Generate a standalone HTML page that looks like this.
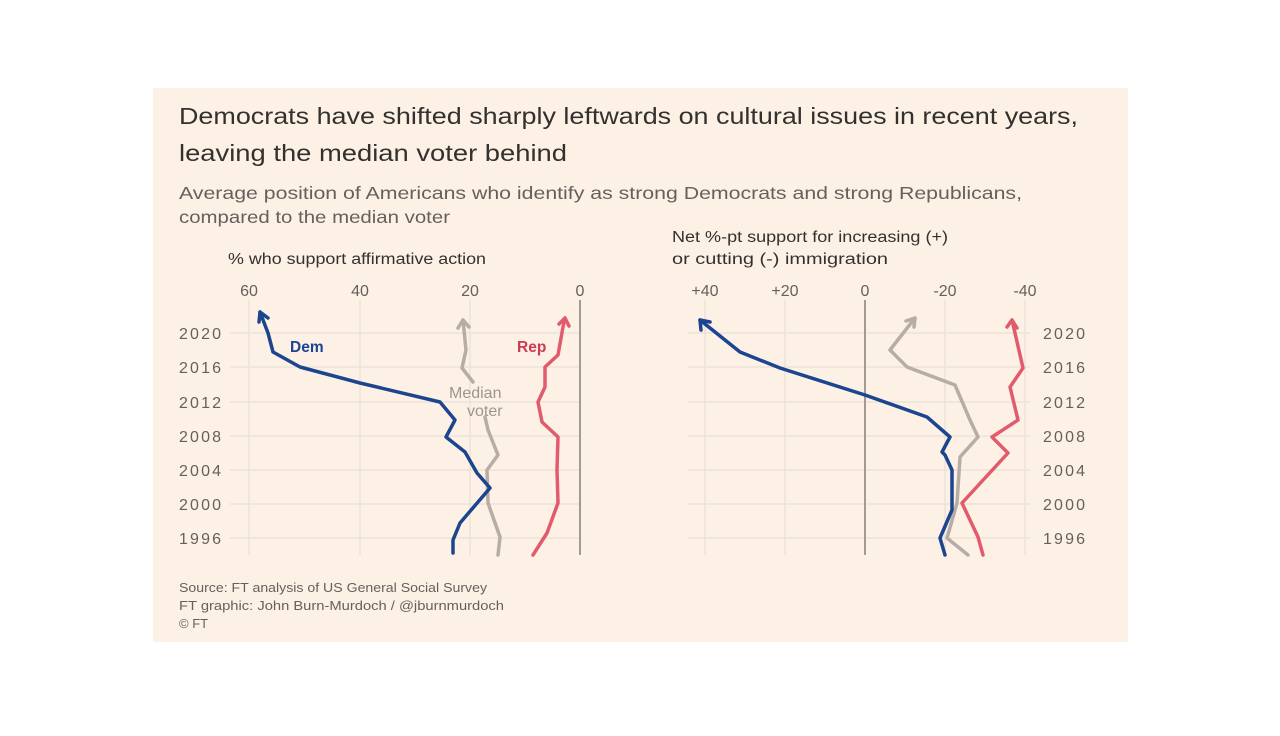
<!DOCTYPE html>
<html><head><meta charset="utf-8"><style>
body{margin:0;background:#fff;width:1280px;height:731px;overflow:hidden;font-family:"Liberation Sans",sans-serif}
</style></head><body>
<svg width="1280" height="731" xmlns="http://www.w3.org/2000/svg" font-family="Liberation Sans, sans-serif">
<rect x="0" y="0" width="1280" height="731" fill="#fff"/>
<rect x="153" y="88" width="975" height="554" fill="#fdf1e6"/>
<text x="179" y="124" font-size="23" fill="#33302e" textLength="899" lengthAdjust="spacingAndGlyphs">Democrats have shifted sharply leftwards on cultural issues in recent years,</text>
<text x="179" y="161" font-size="23" fill="#33302e" textLength="388" lengthAdjust="spacingAndGlyphs">leaving the median voter behind</text>
<text x="179" y="199" font-size="17.5" fill="#66605c" textLength="843" lengthAdjust="spacingAndGlyphs">Average position of Americans who identify as strong Democrats and strong Republicans,</text>
<text x="179" y="223" font-size="17.5" fill="#66605c" textLength="271" lengthAdjust="spacingAndGlyphs">compared to the median voter</text>
<text x="228" y="264" font-size="15.5" fill="#33302e" textLength="258" lengthAdjust="spacingAndGlyphs">% who support affirmative action</text>
<text x="672" y="242" font-size="15.5" fill="#33302e" textLength="276" lengthAdjust="spacingAndGlyphs">Net %-pt support for increasing (+)</text>
<text x="672" y="264" font-size="15.5" fill="#33302e" textLength="216" lengthAdjust="spacingAndGlyphs">or cutting (-) immigration</text>
<g stroke="#ebe2d8" stroke-width="1.5">
<line x1="230" x2="580" y1="333" y2="333"/><line x1="230" x2="580" y1="367" y2="367"/><line x1="230" x2="580" y1="402" y2="402"/><line x1="230" x2="580" y1="436" y2="436"/><line x1="230" x2="580" y1="470" y2="470"/><line x1="230" x2="580" y1="504" y2="504"/><line x1="230" x2="580" y1="538" y2="538"/>
<line x1="688" x2="1030" y1="333" y2="333"/><line x1="688" x2="1030" y1="367" y2="367"/><line x1="688" x2="1030" y1="402" y2="402"/><line x1="688" x2="1030" y1="436" y2="436"/><line x1="688" x2="1030" y1="470" y2="470"/><line x1="688" x2="1030" y1="504" y2="504"/><line x1="688" x2="1030" y1="538" y2="538"/>
<line x1="249" x2="249" y1="300" y2="555"/><line x1="360" x2="360" y1="300" y2="555"/><line x1="470" x2="470" y1="300" y2="555"/>
<line x1="705" x2="705" y1="300" y2="555"/><line x1="785" x2="785" y1="300" y2="555"/><line x1="945" x2="945" y1="300" y2="555"/><line x1="1025" x2="1025" y1="300" y2="555"/>
</g>
<line x1="580" x2="580" y1="300" y2="555" stroke="#a39a93" stroke-width="2"/>
<line x1="865" x2="865" y1="300" y2="555" stroke="#a39a93" stroke-width="2"/>
<g font-size="16" fill="#66605c" text-anchor="middle">
<text x="249" y="296">60</text><text x="360" y="296">40</text><text x="470" y="296">20</text><text x="580" y="296">0</text>
<text x="705" y="296">+40</text><text x="785" y="296">+20</text><text x="865" y="296">0</text><text x="945" y="296">-20</text><text x="1025" y="296">-40</text>
</g>
<g font-size="16" fill="#66605c">
<text x="179" y="339" textLength="42">2020</text><text x="179" y="373" textLength="42">2016</text><text x="179" y="408" textLength="42">2012</text><text x="179" y="442" textLength="42">2008</text><text x="179" y="476" textLength="42">2004</text><text x="179" y="510" textLength="42">2000</text><text x="179" y="544" textLength="42">1996</text>
<text x="1043" y="339" textLength="42">2020</text><text x="1043" y="373" textLength="42">2016</text><text x="1043" y="408" textLength="42">2012</text><text x="1043" y="442" textLength="42">2008</text><text x="1043" y="476" textLength="42">2004</text><text x="1043" y="510" textLength="42">2000</text><text x="1043" y="544" textLength="42">1996</text>
</g>
<g fill="none" stroke-width="3.5" stroke-linejoin="round" stroke-linecap="round">
<polyline stroke="#b7ada5" points="498,555 500,537 488,503 487,470 498,455 488,430 485,417"/>
<polyline stroke="#b7ada5" points="473,382 462,368 466,350 463,320"/>
<polyline stroke="#b7ada5" points="458,328 463,320 469,327"/>
<polyline stroke="#e25b6d" points="533,555 547,533 558,503 557,470 558,437 542,422 538,402 545,387 545,367 558,355 563,327 565,318"/>
<polyline stroke="#e25b6d" points="559,324 565,318 569,326"/>
<polyline stroke="#1c4590" points="453,553 453,540 460,523 490,488 477,473 465,452 446,437 455,420 440,402 360,383 300,367 273,352 268,333 260,312"/>
<polyline stroke="#1c4590" points="259,322 260,312 268,318"/>
<polyline stroke="#b7ada5" points="968,555 947,538 957,503 960,457 978,437 970,420 955,385 907,367 890,350 915,318"/>
<polyline stroke="#b7ada5" points="906,321 915,318 914,327"/>
<polyline stroke="#e25b6d" points="983,555 978,537 962,503 1008,453 992,437 1018,420 1010,387 1023,368 1012,320"/>
<polyline stroke="#e25b6d" points="1007,327 1012,320 1017,328"/>
<polyline stroke="#1c4590" points="945,555 940,538 952,510 952,470 945,455 942,452 950,437 927,417 865,395 780,368 740,352 700,320"/>
<polyline stroke="#1c4590" points="701,330 700,320 710,322"/>
</g>
<text x="290" y="352" font-size="15.5" font-weight="bold" fill="#1c4590">Dem</text>
<text x="517" y="352" font-size="15.5" font-weight="bold" fill="#cc3b53">Rep</text>
<text x="449" y="398" font-size="16" fill="#9e958e">Median</text>
<text x="467" y="416" font-size="16" fill="#9e958e">voter</text>
<g font-size="13" fill="#66605c">
<text x="179" y="592" textLength="308" lengthAdjust="spacingAndGlyphs">Source: FT analysis of US General Social Survey</text>
<text x="179" y="610" textLength="325" lengthAdjust="spacingAndGlyphs">FT graphic: John Burn-Murdoch / @jburnmurdoch</text>
<text x="179" y="628">© FT</text>
</g>
</svg>
</body></html>
